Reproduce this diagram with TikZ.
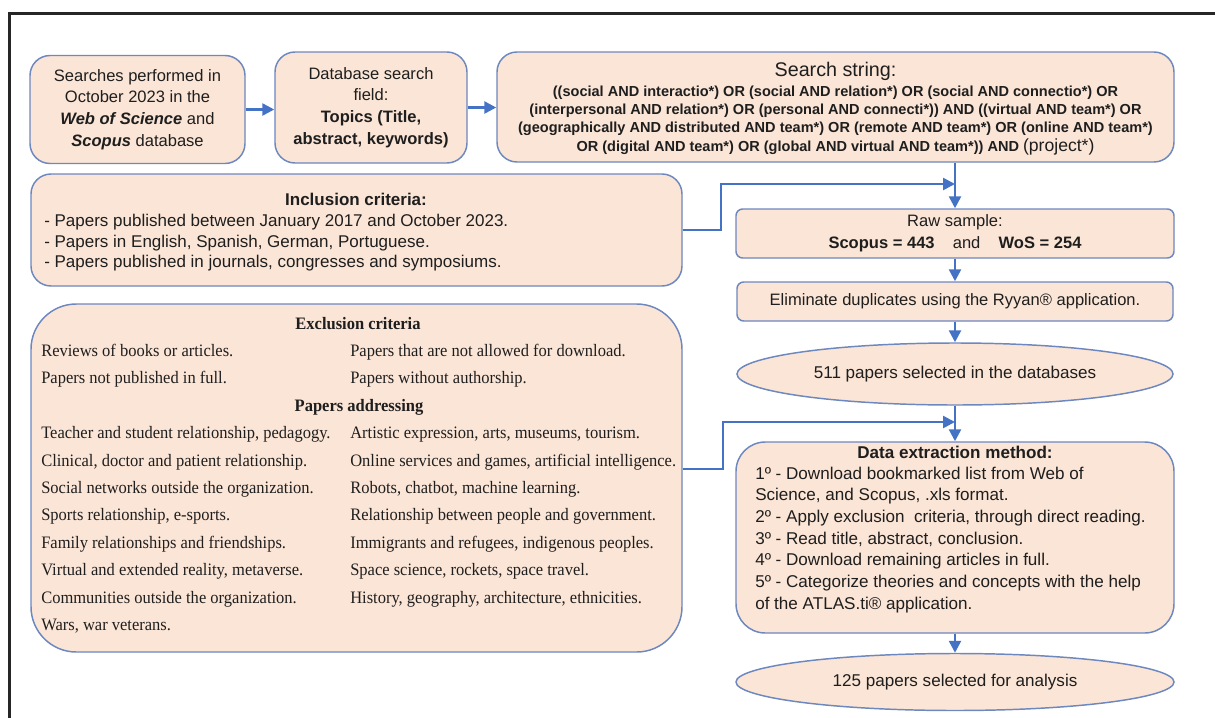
\documentclass[tikz,border=0pt]{standalone}
\usepackage{fontspec}
\setmainfont{Liberation Sans}
\newfontfamily\timesf[FakeStretch=0.945]{Liberation Serif}
\usetikzlibrary{arrows.meta,shapes.geometric}
\definecolor{peach}{HTML}{FBE5D6}
\definecolor{bordc}{HTML}{6D87BF}
\definecolor{arrc}{HTML}{4472C4}
\definecolor{txt}{HTML}{1E1E1E}
\newcommand\fA{\fontsize{12.4pt}{16.3pt}\selectfont}
\newcommand\fD{\fontsize{12.8pt}{16.3pt}\selectfont}
\newcommand\fT{\fontsize{14.8pt}{18pt}\selectfont}
\newcommand\fS{\fontsize{10.9pt}{13.9pt}\selectfont\bfseries}
\newcommand\fI{\fontsize{12.75pt}{16pt}\selectfont}
\newcommand\fE{\fontsize{12.8pt}{16pt}\selectfont}
\newcommand\fX{\timesf\fontsize{13.1pt}{16pt}\selectfont}
\begin{document}
\begin{tikzpicture}[x=0.75pt,y=-0.75pt,
  box/.style={draw=bordc, fill=peach, line width=1.1pt, inner sep=0pt, text=txt},
  sz/.style 2 args={minimum width=#1*0.75pt, minimum height=#2*0.75pt},
  ell/.style={ellipse, draw=bordc, fill=peach, line width=1.1pt, inner sep=0pt, text=txt, font=\fE},
  arr/.style={draw=arrc, line width=1.9pt, -{Triangle[length=9pt,width=9pt]}},
  frame/.style={draw=black!85, line width=1.6pt},
  lbl/.style={inner sep=0pt, text=txt},
]
\useasboundingbox (0,0) rectangle (1215,718);
\draw[frame] (9.5,760) -- (9.5,13.5) -- (1260,13.5);

% top row
\node[box, rounded corners=15pt, sz={215}{108}, align=center, font=\fA] (b1) at (137.5,109.5)
  {Searches performed in\\October 2023 in the\\\textbf{\textit{Web of Science}} and\\\textbf{\textit{Scopus}} database};
\node[box, rounded corners=15pt, sz={192}{111}, align=center, font=\fA] (b2) at (371,107.5)
  {Database search\\field:\\\textbf{Topics (Title,}\\\textbf{abstract, keywords)}};
\node[box, rounded corners=15pt, sz={677}{110}] (b3) at (835.5,107) {};
\node[lbl, font=\fT, anchor=base] (b3t) at (835.5,76) {Search string:};
\node[lbl, font=\fS, anchor=base] (b3a) at (835.5,96.5) {((social AND interactio*) OR (social AND relation*) OR (social AND connectio*) OR};
\node[lbl, font=\fS, anchor=base] (b3b) at (835.5,114.5) {(interpersonal AND relation*) OR (personal AND connecti*)) AND ((virtual AND team*) OR};
\node[lbl, font=\fS, anchor=base] (b3c) at (835.5,132.5) {(geographically AND distributed AND team*) OR (remote AND team*) OR (online AND team*)};
\node[lbl, font=\fS, anchor=base] (b3d) at (835.5,151) {OR (digital AND team*) OR (global AND virtual AND team*)) AND {\mdseries\fontsize{13.2pt}{16pt}\selectfont (project*)}};

% inclusion
\node[box, rounded corners=15pt, sz={651}{112}] (inc) at (356.5,230) {};
\node[lbl, font=\fI\bfseries, anchor=base] (inct) at (356,205) {Inclusion criteria:};
\node[lbl, font=\fI, anchor=base west] (inc1) at (44,226.5) {- Papers published between January 2017 and October 2023.};
\node[lbl, font=\fI, anchor=base west] (inc2) at (44,247) {- Papers in English, Spanish, German, Portuguese.};
\node[lbl, font=\fI, anchor=base west] (inc3) at (44,267.5) {- Papers published in journals, congresses and symposiums.};

% exclusion
\node[box, rounded corners=34pt, sz={651}{348}] (exc) at (356.5,478) {};
\node[lbl, font=\fX\bfseries, anchor=base] (exct) at (358,329) {Exclusion criteria};
\node[lbl, font=\fX\bfseries, anchor=base] (exct2) at (359,{329+27.4*3}) {Papers addressing};
\foreach \t [count=\i] in {{Reviews of books or articles.},{Papers not published in full.}}
  \node[lbl, font=\fX, anchor=base west] (exa\i) at (41,{329+27.4*\i}) {\t};
\foreach \t [count=\i] in {{Papers that are not allowed for download.},{Papers without authorship.}}
  \node[lbl, font=\fX, anchor=base west] (exb\i) at (350,{329+27.4*\i}) {\t};
\foreach \t [count=\i] in {{Teacher and student relationship, pedagogy.},{Clinical, doctor and patient relationship.},{Social networks outside the organization.},{Sports relationship, e-sports.},{Family relationships and friendships.},{Virtual and extended reality, metaverse.},{Communities outside the organization.},{Wars, war veterans.}}
  \node[lbl, font=\fX, anchor=base west] (exl\i) at (41,{329+27.4*(\i+3)}) {\t};
\foreach \t [count=\i] in {{Artistic expression, arts, museums, tourism.},{Online services and games, artificial intelligence.},{Robots, chatbot, machine learning.},{Relationship between people and government.},{Immigrants and refugees, indigenous peoples.},{Space science, rockets, space travel.},{History, geography, architecture, ethnicities.}}
  \node[lbl, font=\fX, anchor=base west] (exr\i) at (350,{329+27.4*(\i+3)}) {\t};

% right column
\node[box, rounded corners=5pt, sz={438}{49}, align=center, font=\fA] (raw) at (955,233.5)
  {Raw sample:\\\textbf{Scopus = 443}\hspace{1.1em}and\hspace{1.1em}\textbf{WoS = 254}};
\node[box, rounded corners=5pt, sz={436}{39}, font=\fA] (elim) at (955,301.5)
  {Eliminate duplicates using the Ryyan® application.};
\node[ell, sz={436}{62}] (e511) at (955,374) {511 papers selected in the databases};
\node[box, rounded corners=22pt, sz={438}{191}] (data) at (955,537.5) {};
\node[lbl, font=\fD\bfseries, anchor=base] (datat) at (955,458) {Data extraction method:};
\foreach \t [count=\i] in {{1º - Download bookmarked list from Web of},{Science, and Scopus, .xls format.},{2º - Apply exclusion\ \ criteria, through direct reading.},{3º - Read title, abstract, conclusion.},{4º - Download remaining articles in full.},{5º - Categorize theories and concepts with the help},{of the ATLAS.ti® application.}}
  \node[lbl, font=\fD, anchor=base west] (d\i) at (755,{457.5+21.65*\i}) {\t};
\node[ell, sz={438}{57}] (e125) at (955,682) {125 papers selected for analysis};

% connectors
\draw[arr] (b1.east) -- (b1.east -| b2.west);
\draw[arr] (b2.east) -- (b2.east -| b3.west);
\draw[arr] (raw.north |- b3.south) -- (raw.north);
\coordinate (k1) at (721,184);
\coordinate (j1) at (955,184);
\draw[arr] (inc.east) -| (k1) -- (j1);
\draw[arr] (raw.south) -- (elim.north);
\draw[arr] (elim.south) -- (e511.north);
\draw[arr] (e511.south) -- (data.north);
\coordinate (ey) at (0,469);
\coordinate (k2) at (723,422);
\coordinate (j2) at (955,422);
\draw[arr] (exc.east |- ey) -| (k2) -- (j2);
\draw[arr] (data.south) -- (e125.north);
\end{tikzpicture}
\end{document}
